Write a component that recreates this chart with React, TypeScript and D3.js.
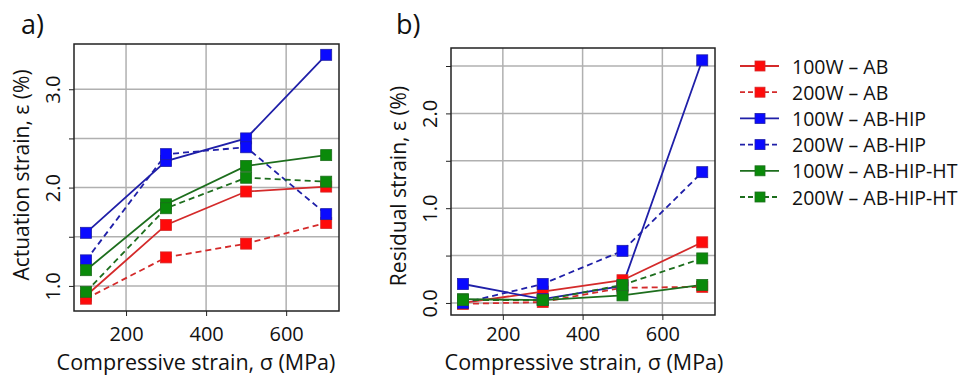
import React, { useEffect, useRef } from 'react';
import * as d3 from 'd3';

const stress = [100, 300, 500, 700];

const seriesNames = [
  '100W – AB',
  '200W – AB',
  '100W – AB-HIP',
  '200W – AB-HIP',
  '100W – AB-HIP-HT',
  '200W – AB-HIP-HT',
];

// actuation strain (%), panel a
const actAB100 = [0.9, 1.62, 1.96, 2.01];
const actAB200 = [0.87, 1.29, 1.43, 1.64];
const actHIP100 = [1.54, 2.27, 2.5, 3.35];
const actHIP200 = [1.26, 2.34, 2.41, 1.73];
const actHT100 = [1.16, 1.83, 2.22, 2.33];
const actHT200 = [0.94, 1.79, 2.1, 2.06];

// residual strain (%), panel b
const resAB100 = [0.0, 0.12, 0.24, 0.64];
const resAB200 = [-0.01, 0.01, 0.16, 0.17];
const resHIP100 = [0.2, 0.04, 0.18, 2.56];
const resHIP200 = [0.0, 0.2, 0.55, 1.38];
const resHT100 = [0.04, 0.03, 0.08, 0.19];
const resHT200 = [0.03, 0.03, 0.19, 0.47];

const xTicks = [200, 400, 600];
const yTicksA = [1.0, 2.0, 3.0];
const yGridA = [1.0, 1.5, 2.0, 2.5, 3.0];
const yTicksB = [0.0, 1.0, 2.0];
const yGridB = [0.0, 0.5, 1.0, 1.5, 2.0, 2.5];

const lineColors = ['#d42a2a', '#d42a2a', '#1f1fa8', '#1f1fa8', '#1d6e1d', '#1d6e1d'];
const fillColors = ['#ff0a0a', '#ff0a0a', '#0a0aff', '#0a0aff', '#0a8a0a', '#0a8a0a'];
const dashed = [false, true, false, true, false, true];

const FONT = '"Open Sans", sans-serif';

function drawPanel(svg, opts) {
  const { left, right, top, bottom, yDomain, yGrid, yTicks, series, yTitle, label, labelX, titleX, titleY, tickY } = opts;
  const x = d3.scaleLinear().domain([70, 732]).range([left, right]);
  const y = d3.scaleLinear().domain(yDomain).range([bottom, top]);
  const g = svg.append('g');

  // grid
  g.selectAll('.gx').data(xTicks).enter().append('line')
    .attr('x1', d => x(d)).attr('x2', d => x(d))
    .attr('y1', top).attr('y2', bottom)
    .attr('stroke', '#b0b0b0').attr('stroke-width', 1.5);
  g.selectAll('.gy').data(yGrid).enter().append('line')
    .attr('x1', left).attr('x2', right)
    .attr('y1', d => y(d)).attr('y2', d => y(d))
    .attr('stroke', '#b0b0b0').attr('stroke-width', 1.5);

  // axes
  const xAxis = g.append('g').attr('transform', `translate(0,${bottom})`)
    .call(d3.axisBottom(x).tickValues(xTicks).tickSize(5).tickFormat(d3.format('d')));
  xAxis.select('.domain').remove();
  xAxis.selectAll('line').attr('stroke', '#222');
  xAxis.selectAll('text').attr('dy', 0).attr('y', tickY)
    .style('font-family', FONT).style('font-size', '20px').attr('fill', '#111');

  const yAxis = g.append('g').attr('transform', `translate(${left},0)`)
    .call(d3.axisLeft(y).tickValues(yGrid).tickSize(5).tickFormat(d => (yTicks.includes(d) ? d3.format('.1f')(d) : '')));
  yAxis.select('.domain').remove();
  yAxis.selectAll('line').attr('stroke', '#222');
  yAxis.selectAll('text')
    .attr('x', 0).attr('dy', 0)
    .attr('transform', 'translate(-22,0) rotate(-90)')
    .attr('text-anchor', 'middle')
    .attr('dominant-baseline', 'central')
    .style('font-family', FONT).style('font-size', '20px').attr('fill', '#111');

  g.append('rect')
    .attr('x', left).attr('y', top).attr('width', right - left).attr('height', bottom - top)
    .attr('fill', 'none').attr('stroke', '#222').attr('stroke-width', 1.5);

  const line = d3.line().x((d, i) => x(stress[i])).y(d => y(d));

  series.forEach((vals, si) => {
    g.append('path').datum(vals)
      .attr('d', line)
      .attr('fill', 'none')
      .attr('stroke', lineColors[si])
      .attr('stroke-width', 1.8)
      .attr('stroke-dasharray', dashed[si] ? '6,4' : null);
  });
  series.forEach((vals, si) => {
    g.selectAll(null).data(vals).enter().append('rect')
      .attr('x', (d, i) => x(stress[i]) - 5.5)
      .attr('y', d => y(d) - 5.5)
      .attr('width', 11).attr('height', 11)
      .attr('fill', fillColors[si])
      .attr('stroke', lineColors[si]).attr('stroke-width', 0.8);
  });

  // titles
  g.append('text')
    .attr('x', titleX).attr('y', titleY)
    .attr('text-anchor', 'middle')
    .style('font-family', FONT).style('font-size', '21.5px').attr('fill', '#111')
    .text('Compressive strain, σ (MPa)');
  g.append('text')
    .attr('transform', `translate(${opts.yTitleX},${opts.yTitleY}) rotate(-90)`)
    .attr('text-anchor', 'middle').attr('dominant-baseline', 'central')
    .style('font-family', FONT).style('font-size', '21px').attr('fill', '#111')
    .text(yTitle);
  g.append('text')
    .attr('x', labelX).attr('y', 34)
    .style('font-family', FONT).style('font-size', '27px').attr('fill', '#111')
    .text(label);
}

export default function App() {
  const ref = useRef(null);

  useEffect(() => {
    const svg = d3.select(ref.current);
    svg.selectAll('*').remove();

    drawPanel(svg, {
      left: 74, right: 339, top: 44, bottom: 311,
      yDomain: [0.745, 3.46], yGrid: yGridA, yTicks: yTicksA,
      series: [actAB100, actAB200, actHIP100, actHIP200, actHT100, actHT200],
      yTitle: 'Actuation strain, ε (%)', yTitleX: 21, yTitleY: 175,
      label: 'a)', labelX: 21, titleX: 196, titleY: 370, tickY: 30,
    });
    drawPanel(svg, {
      left: 451, right: 715, top: 48, bottom: 315,
      yDomain: [-0.127, 2.69], yGrid: yGridB, yTicks: yTicksB,
      series: [resAB100, resAB200, resHIP100, resHIP200, resHT100, resHT200],
      yTitle: 'Residual strain, ε (%)', yTitleX: 398, yTitleY: 186,
      label: 'b)', labelX: 396, titleX: 584, titleY: 370, tickY: 26,
    });

    // legend
    const legend = svg.append('g');
    const rowY = d3.scaleLinear().domain([0, 5]).range([66, 197]);
    seriesNames.forEach((name, i) => {
      const yy = rowY(i);
      legend.append('line')
        .attr('x1', 740).attr('x2', 779).attr('y1', yy).attr('y2', yy)
        .attr('stroke', lineColors[i]).attr('stroke-width', 1.8)
        .attr('stroke-dasharray', dashed[i] ? '5,3' : null);
      legend.append('rect')
        .attr('x', 755).attr('y', yy - 5).attr('width', 10).attr('height', 10)
        .attr('fill', fillColors[i]).attr('stroke', lineColors[i]).attr('stroke-width', 0.8);
      legend.append('text')
        .attr('x', 792).attr('y', yy).attr('dominant-baseline', 'central')
        .style('font-family', FONT).style('font-size', '19.5px').attr('fill', '#111')
        .text(name);
    });
  }, []);

  return (
    <svg
      ref={ref}
      width={961}
      height={380}
      style={{ position: 'absolute', left: 0, top: 0, background: '#fff' }}
    />
  );
}
